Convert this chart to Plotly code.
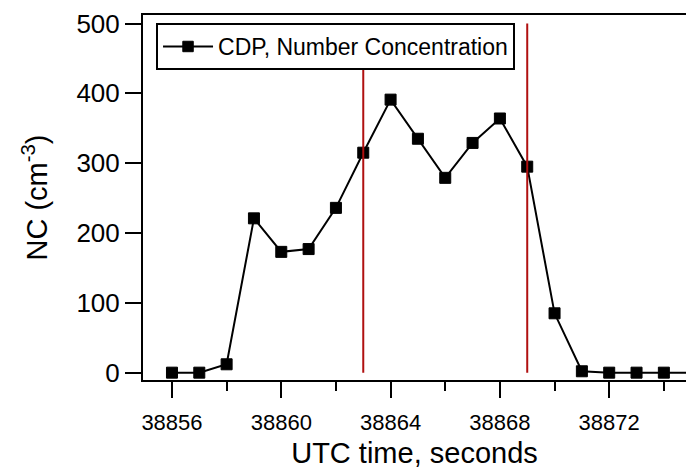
import plotly.graph_objects as go

time_s = [38856, 38857, 38858, 38859, 38860, 38861, 38862, 38863, 38864, 38865,
          38866, 38867, 38868, 38869, 38870, 38871, 38872, 38873, 38874, 38875]
nc = [0, 0, 12, 221, 173, 177, 236, 315, 391, 335,
      279, 329, 364, 295, 85, 2, 0, 0, 0, 0]
marker_sizes = [11] * 19 + [0]

red_lines_x = [38863, 38869]
red_lines_y = [0, 500]

FONT = "Liberation Sans, Arial, sans-serif"

fig = go.Figure()
fig.add_trace(go.Scatter(
    x=time_s, y=nc, mode="lines+markers",
    name="CDP, Number Concentration",
    line=dict(color="black", width=2),
    marker=dict(symbol="square", size=marker_sizes, color="black",
                opacity=1, line=dict(color="black", width=1)),
))
for xv in red_lines_x:
    fig.add_trace(go.Scatter(
        x=[xv, xv], y=red_lines_y, mode="lines",
        line=dict(color="#b01010", width=2), showlegend=False, hoverinfo="skip",
    ))

fig.update_layout(
    width=686, height=469,
    margin=dict(l=143, r=0, t=15, b=89),
    plot_bgcolor="white", paper_bgcolor="white",
    font=dict(family=FONT, color="black"),
    legend=dict(
        x=0.024, y=0.978, xanchor="left", yanchor="top",
        bordercolor="black", borderwidth=2, bgcolor="white",
        font=dict(size=23, family=FONT),
        itemwidth=50,
    ),
    showlegend=True,
)
fig.update_xaxes(
    range=[38854.94, 38874.81],
    tick0=38856, dtick=4, tickformat="d",
    ticks="outside", ticklen=16, tickwidth=2, tickcolor="black",
    minor=dict(dtick=2, tick0=38856, ticks="outside", ticklen=9, tickwidth=2, tickcolor="black"),
    showline=True, linecolor="black", linewidth=2, mirror=True,
    showgrid=False, zeroline=False,
    tickfont=dict(size=22, family=FONT),
    ticklabelstandoff=6,
    title=dict(text="UTC time, seconds", font=dict(size=29, family=FONT), standoff=10),
)
fig.update_yaxes(
    range=[-10.5, 512.2],
    tick0=0, dtick=100,
    ticks="outside", ticklen=16, tickwidth=2, tickcolor="black",
    showline=True, linecolor="black", linewidth=2, mirror=False,
    showgrid=False, zeroline=False,
    tickfont=dict(size=26, family=FONT),
    title=dict(text="NC (cm<sup>-3</sup>)", font=dict(size=29, family=FONT), standoff=20),
)

fig.write_html("out.html")
